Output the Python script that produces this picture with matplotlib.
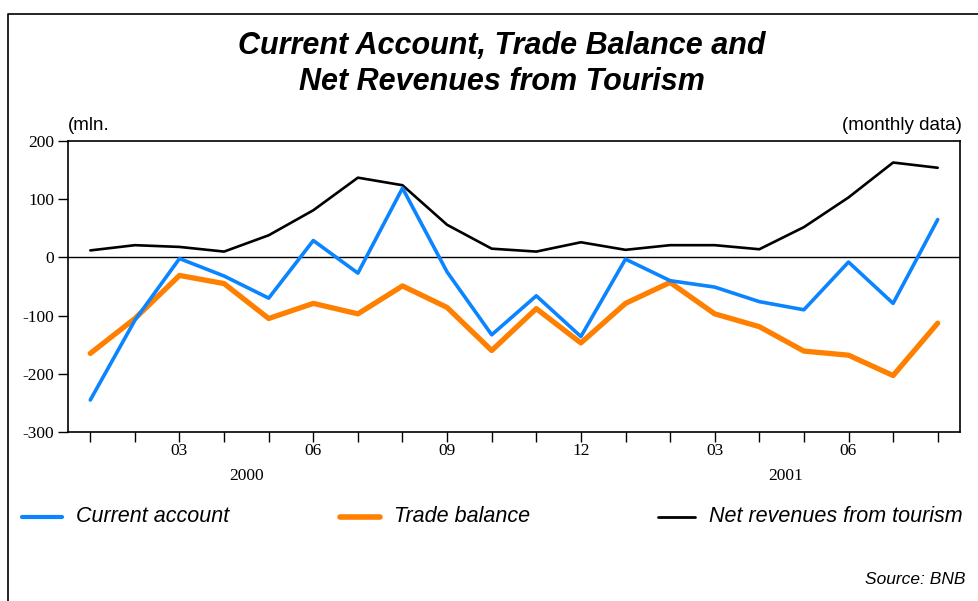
import matplotlib
matplotlib.use("Agg")
import matplotlib.pyplot as plt
from matplotlib.lines import Line2D

plt.rcParams["axes.unicode_minus"] = False

months = list(range(1, 21))
month_labels = ["", "", "03", "", "", "06", "", "", "09", "", "", "12",
                "", "", "03", "", "", "06", "", ""]
years = ["2000", "2001"]
year_pos = [4.5, 16.6]

current_account = [-245, -108, -2, -32, -70, 29, -27, 119, -25, -133,
                   -66, -136, -3, -40, -51, -76, -90, -8, -79, 65]
trade_balance = [-165, -105, -31, -45, -105, -79, -97, -49, -86, -160,
                 -88, -147, -79, -43, -97, -119, -161, -168, -203, -113]
tourism = [12, 21, 18, 10, 38, 81, 137, 124, 56, 15,
           10, 26, 13, 21, 21, 14, 52, 103, 163, 154]

blue = "#0a84ff"
orange = "#ff8000"

W, H = 979, 601
fig = plt.figure(figsize=(W / 100, H / 100), dpi=100)
ax = fig.add_axes([68 / W, 1 - 432 / H, (960 - 68) / W, (432 - 141) / H])

ax.plot(months, tourism, color="black", lw=1.9, solid_capstyle="round", zorder=3)
ax.plot(months, trade_balance, color=orange, lw=3.8, solid_capstyle="round", zorder=4)
ax.plot(months, current_account, color=blue, lw=2.6, solid_capstyle="round", zorder=5)
ax.axhline(0, color="black", lw=1.0, zorder=2)

ax.set_xlim(0.5, 20.5)
ax.set_ylim(-300, 200)
ax.set_yticks([-300, -200, -100, 0, 100, 200])
ax.set_xticks(months)
ax.set_xticklabels(month_labels)
serif = "Liberation Serif"
for lab in ax.get_yticklabels() + ax.get_xticklabels():
    lab.set_fontfamily(serif)
    lab.set_fontsize(12.5)
ax.tick_params(axis="both", direction="out", length=7, width=1.0, color="black")
ax.tick_params(axis="x", pad=1)
ax.tick_params(axis="y", pad=3)
for s in ax.spines.values():
    s.set_linewidth(1.2)

for yr, xp in zip(years, year_pos):
    ax.text(xp, -0.125, yr, transform=ax.get_xaxis_transform(), ha="center",
            va="top", fontfamily=serif, fontsize=12.5)

sans = "Liberation Sans"
fig.text(502 / W, 1 - 46 / H, "Current Account, Trade Balance and",
         ha="center", va="center", fontfamily=sans, fontsize=22,
         fontweight="bold", fontstyle="italic")
fig.text(502 / W, 1 - 82 / H, "Net Revenues from Tourism",
         ha="center", va="center", fontfamily=sans, fontsize=22,
         fontweight="bold", fontstyle="italic")
fig.text(68 / W, 1 - 125 / H, "(mln.", ha="left", va="center",
         fontfamily=sans, fontsize=13.5)
fig.text(962 / W, 1 - 125 / H, "(monthly data)", ha="right", va="center",
         fontfamily=sans, fontsize=13.5)
fig.text(966 / W, 1 - 580 / H, "Source: BNB", ha="right", va="center",
         fontfamily=sans, fontsize=12.5, fontstyle="italic")

# legend entries drawn in figure coordinates
entries = [(22, 62, blue, 3.0, "Current account"),
           (340, 380, orange, 4.0, "Trade balance"),
           (658, 695, "black", 2.0, "Net revenues from tourism")]
ly = 1 - 517 / H
for x0, x1, c, lw, label in entries:
    fig.add_artist(Line2D([x0 / W, x1 / W], [ly, ly], color=c, lw=lw,
                          solid_capstyle="round", transform=fig.transFigure))
    fig.text((x1 + 14) / W, ly, label, ha="left", va="center",
             fontfamily=sans, fontsize=15.5, fontstyle="italic")

# outer frame
fig.add_artist(Line2D([8 / W, 8 / W, 1.0], [0.0, 1 - 14 / H, 1 - 14 / H],
                      color="black", lw=1.2, transform=fig.transFigure))

fig.savefig("out.png", dpi=100)
